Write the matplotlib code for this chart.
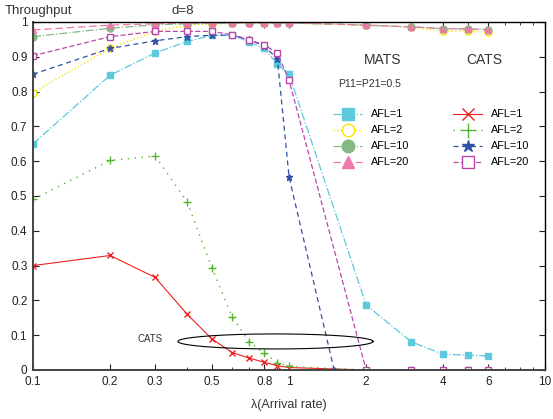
import numpy as np
import matplotlib
matplotlib.use("Agg")
import matplotlib.pyplot as plt
from matplotlib.ticker import FixedLocator, NullFormatter

plt.rcParams['font.family'] = ['Liberation Sans', 'DejaVu Sans']

# Arrival rates
lam = [0.1, 0.2, 0.3, 0.4, 0.5, 0.6, 0.7, 0.8, 0.9, 1, 2, 3, 4, 5, 6]
lam_cats10 = [0.1, 0.2, 0.3, 0.4, 0.5, 0.6, 0.7, 0.8, 0.9, 1, 1.5]

# MATS throughput
mats_afl1 = [0.65, 0.847, 0.911, 0.944, 0.962, 0.962, 0.943, 0.924, 0.879, 0.850, 0.187, 0.081, 0.045, 0.043, 0.040]
mats_afl2 = [0.797, 0.924, 0.973, 0.991, 0.995, 0.996, 0.996, 0.997, 0.997, 0.997, 0.991, 0.985, 0.974, 0.974, 0.970]
mats_afl10 = [0.958, 0.982, 0.992, 0.995, 0.996, 0.997, 0.997, 0.997, 0.997, 0.997, 0.991, 0.986, 0.981, 0.980, 0.978]
mats_afl20 = [0.977, 0.991, 0.995, 0.997, 0.997, 0.998, 0.998, 0.998, 0.998, 0.998, 0.991, 0.986, 0.981, 0.980, 0.978]

# CATS throughput
cats_afl1 = [0.300, 0.329, 0.266, 0.160, 0.089, 0.050, 0.034, 0.022, 0.012, 0.007, 0, 0, 0, 0, 0]
cats_afl2 = [0.490, 0.602, 0.615, 0.483, 0.293, 0.152, 0.080, 0.048, 0.021, 0.010, 0, 0, 0, 0, 0]
cats_afl10 = [0.850, 0.924, 0.946, 0.958, 0.962, 0.962, 0.950, 0.930, 0.895, 0.555, 0]
cats_afl20 = [0.903, 0.958, 0.973, 0.973, 0.973, 0.963, 0.948, 0.935, 0.910, 0.833, 0, 0, 0, 0, 0]

xticks = [0.1, 0.2, 0.3, 0.5, 0.8, 1, 2, 4, 6, 10]
xticklabels = ['0.1', '0.2', '0.3', '0.5', '0.8', '1', '2', '4', '6', '10']
yticks = [0, 0.1, 0.2, 0.3, 0.4, 0.5, 0.6, 0.7, 0.8, 0.9, 1]
yticklabels = ['0', '0.1', '0.2', '0.3', '0.4', '0.5', '0.6', '0.7', '0.8', '0.9', '1']

fig = plt.figure(figsize=(5.53, 4.19), dpi=100)
ax = fig.add_axes([0.0597, 0.117, 0.926, 0.8305])

C_CYAN = '#5ec8dc'
C_YEL = '#f5e600'
C_GRN = '#86b886'
C_PINK = '#ee78a8'
C_RED = '#ee2020'
C_LGRN = '#55b530'
C_BLUE = '#3050a8'
C_MAG = '#b848a8'

ms = 5
h1, = ax.plot(lam, mats_afl1, color=C_CYAN, ls='-.', lw=0.9, marker='s', ms=ms,
              mfc=C_CYAN, mec=C_CYAN, label='AFL=1')
h2, = ax.plot(lam, mats_afl2, color=C_YEL, ls=':', lw=1.0, marker='o', ms=ms,
              mfc='white', mec=C_YEL, label='AFL=2')
h3, = ax.plot(lam, mats_afl10, color=C_GRN, ls='-.', lw=0.9, marker='o', ms=ms,
              mfc=C_GRN, mec=C_GRN, label='AFL=10')
h4, = ax.plot(lam, mats_afl20, color=C_PINK, ls=(0, (6, 3)), lw=0.9, marker='^', ms=ms,
              mfc=C_PINK, mec=C_PINK, label='AFL=20')

g1, = ax.plot(lam, cats_afl1, color=C_RED, ls='-', lw=0.8, marker='x', ms=ms,
              mec=C_RED, label='AFL=1')
g2, = ax.plot(lam, cats_afl2, color=C_LGRN, ls=(0, (1, 4)), lw=1.0, marker='+', ms=ms + 1,
              mec=C_LGRN, label='AFL=2')
g3, = ax.plot(lam_cats10, cats_afl10, color=C_BLUE, ls=(0, (4, 3)), lw=0.9, marker='*', ms=ms,
              mfc=C_BLUE, mec=C_BLUE, label='AFL=10')
g4, = ax.plot(lam, cats_afl20, color=C_MAG, ls=(0, (4, 2)), lw=0.9, marker='s', ms=ms,
              mfc='white', mec=C_MAG, label='AFL=20')

# ellipse marking the CATS region (drawn in log-x space)
t = np.linspace(0, 2 * np.pi, 300)
cx, ax_w = -0.053, 0.381
cy, by = 0.082, 0.0216
ax.plot(10 ** (cx + ax_w * np.cos(t)), cy + by * np.sin(t), color='black', lw=0.8)
ax.text(0.257, 0.088, 'CATS', fontsize=7, ha='left', va='center', color='#333333')

ax.set_xscale('log')
ax.set_xlim(0.1, 10)
ax.set_ylim(0, 1)
ax.xaxis.set_major_locator(FixedLocator(xticks))
ax.set_xticklabels(xticklabels)
ax.xaxis.set_minor_locator(FixedLocator([v for d in (0.1, 1) for v in np.arange(2, 10) * d
                                         if v not in xticks]))
ax.xaxis.set_minor_formatter(NullFormatter())
ax.set_yticks(yticks)
ax.set_yticklabels(yticklabels)
ax.tick_params(axis='both', which='both', direction='in', top=True, right=True,
               labelsize=8.5, colors='#222222')
ax.tick_params(axis='x', which='major', pad=4)
ax.tick_params(axis='y', which='major', pad=4)
ax.tick_params(axis='both', which='major', length=4, width=0.8)
ax.tick_params(axis='both', which='minor', length=2.5, width=0.6)
for s in ('left', 'bottom'):
    ax.spines[s].set_color('#444444')
    ax.spines[s].set_linewidth(1.4)
for s in ('top', 'right'):
    ax.spines[s].set_color('black')
    ax.spines[s].set_linewidth(1.0)

ax.set_xlabel('λ(Arrival rate)', fontsize=9, color='#333333', labelpad=8)
fig.text(5 / 553, 1 - 11 / 419, 'Throughput', fontsize=9.5, color='#333333', va='center', ha='left')
fig.text(172 / 553, 1 - 11 / 419, 'd=8', fontsize=9.5, color='#333333', va='center', ha='left')
fig.text(383 / 553, 1 - 60 / 419, 'MATS', fontsize=10, color='#333333', va='center', ha='center')
fig.text(484 / 553, 1 - 60 / 419, 'CATS', fontsize=10, color='#333333', va='center', ha='center')
fig.text(370 / 553, 1 - 84 / 419, 'P11=P21=0.5', fontsize=7.5, color='#333333', va='center', ha='center')

leg_kw = dict(bbox_transform=fig.transFigure, frameon=False, fontsize=7.8, markerscale=1.8,
              handlelength=2.6, handletextpad=0.9, labelspacing=0.55, borderpad=0, loc='upper left')
leg1 = ax.legend(handles=[h1, h2, h3, h4], bbox_to_anchor=(328 / 553, 1 - 104 / 419), **leg_kw)
ax.add_artist(leg1)
ax.legend(handles=[g1, g2, g3, g4], bbox_to_anchor=(448 / 553, 1 - 104 / 419), **leg_kw)

fig.savefig('out.png', dpi=100)
